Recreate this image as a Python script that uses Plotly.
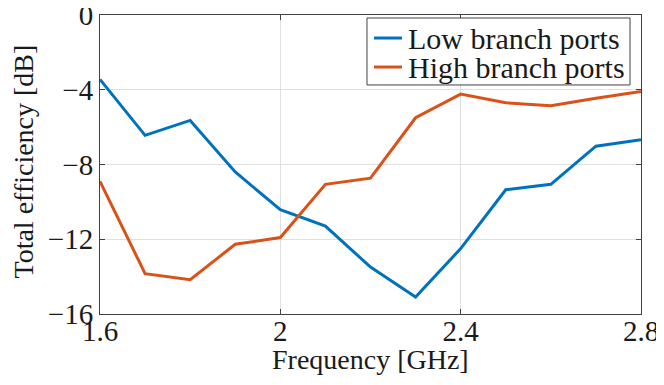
import plotly.graph_objects as go

freq = [1.6, 1.7, 1.8, 1.9, 2.0, 2.1, 2.2, 2.3, 2.4, 2.5, 2.6, 2.7, 2.8]
low_branch = [-3.45, -6.44, -5.64, -8.4, -10.42, -11.3, -13.49, -15.09, -12.5, -9.35, -9.06, -7.02, -6.67]
high_branch = [-8.9, -13.84, -14.16, -12.27, -11.91, -9.06, -8.73, -5.5, -4.23, -4.7, -4.86, -4.45, -4.09]

series_names = ["Low branch ports", "High branch ports"]
series_colors = ["#0072BD", "#D95319"]

x_ticks = [1.6, 2.0, 2.4, 2.8]
x_tick_text = ["1.6", "2", "2.4", "2.8"]
y_ticks = [-16, -12, -8, -4, 0]

font_family = "Liberation Serif"
txt = "#1a1a1a"
edge = "#404040"

fig = go.Figure()
for name, color, vals in zip(series_names, series_colors, [low_branch, high_branch]):
    fig.add_trace(go.Scatter(x=freq, y=vals, mode="lines", name=name,
                             line=dict(color=color, width=3), showlegend=False))

axis_common = dict(
    showgrid=True, gridcolor="#dfdfdf", gridwidth=1,
    showline=True, linecolor=edge, linewidth=1, mirror="allticks",
    ticks="inside", ticklen=5, tickcolor=edge,
    zeroline=False, automargin=False, ticklabeloverflow="allow",
    tickfont=dict(family=font_family, size=29, color=txt),
)

# legend box drawn by hand so the rows sit as tight as the original
fig.add_shape(type="rect", xref="paper", yref="paper", x0=0.4935, x1=0.9797, y0=0.766, y1=0.99,
              fillcolor="white", line=dict(color=edge, width=1), layer="above")
legend_rows = [0.923, 0.826]
for name, color, ly in zip(series_names, series_colors, legend_rows):
    fig.add_shape(type="line", xref="paper", yref="paper", x0=0.5065, x1=0.5582, y0=ly, y1=ly,
                  line=dict(color=color, width=3), layer="above")
    fig.add_annotation(text=name, xref="paper", yref="paper", x=0.566, y=ly,
                       xanchor="left", yanchor="middle", showarrow=False,
                       font=dict(family=font_family, size=30, color=txt))

# axis titles
fig.add_annotation(text="Frequency [GHz]", xref="paper", yref="paper", x=0.5, y=-0.153,
                   xanchor="center", yanchor="middle", showarrow=False,
                   font=dict(family=font_family, size=28, color=txt))
fig.add_annotation(text="Total efficiency [dB]", xref="paper", yref="paper", x=-0.1405, y=0.51,
                   xanchor="center", yanchor="middle", textangle=-90, showarrow=False,
                   font=dict(family=font_family, size=28, color=txt))

fig.update_layout(
    width=664, height=385,
    margin=dict(l=92, r=31, t=7, b=79),
    paper_bgcolor="white", plot_bgcolor="white",
    font=dict(family=font_family, color=txt),
    xaxis=dict(range=[1.6, 2.8], tickvals=x_ticks, ticktext=x_tick_text,
               ticklabelstandoff=-9, **axis_common),
    yaxis=dict(range=[-16, 0], tickvals=y_ticks, **axis_common),
    showlegend=False,
)

fig.write_html("out.html")
